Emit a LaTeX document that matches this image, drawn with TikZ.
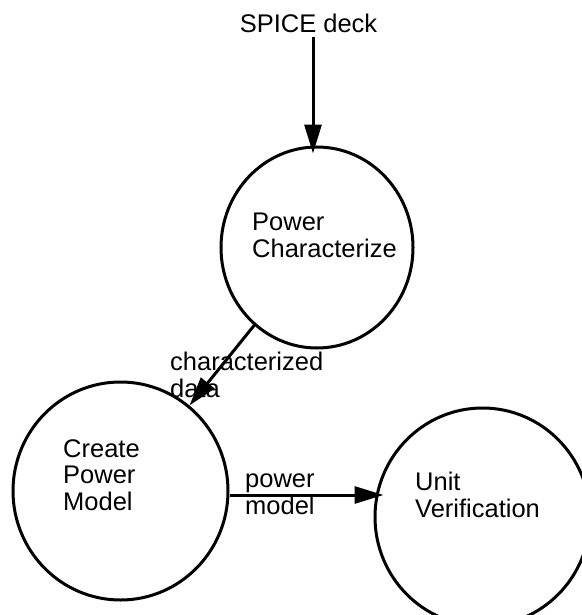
\documentclass[tikz,border=0pt]{standalone}
\usepackage{fontspec}
\setmainfont{Liberation Sans}
\usetikzlibrary{arrows.meta,shapes.geometric,positioning}
\begin{document}
\begin{tikzpicture}[x=1pt, y=-1pt,
    bubble/.style={ellipse, draw, line width=3pt, inner sep=0pt},
    flow/.style={line width=3pt, -{Triangle[length=29pt,width=17pt]}},
    txt/.style={font=\fontsize{25.5}{26.5}\selectfont, inner sep=0pt, align=left, anchor=north west}]
  \useasboundingbox (0,0) rectangle (581,615);
  % Processes
  \node[bubble, minimum width=192pt, minimum height=201pt] (pc) at (317,247.5) {};
  \node[bubble, minimum width=215pt, minimum height=218pt] (pm) at (120.5,491) {};
  \node[bubble, minimum width=215pt, minimum height=218pt] (uv) at (482.5,517) {};
  \node[txt] (pctext) at (252,213) {Power\\Characterize};
  \node[txt] (pmtext) at (63,439) {Create\\Power\\Model};
  \node[txt] (uvtext) at (415,472) {Unit\\Verification};
  % Input
  \node[txt, anchor=base] (spice) at (308.5,33) {SPICE deck};
  \coordinate (feed) at (313,0);
  \draw[flow, shorten <=4pt, shorten >=-8pt] (spice.south -| feed) -- (feed |- pc.north);
  % Data flows
  \draw[flow] (pc) -- (pm);
  \node[txt] (chardata) at (170,352) {characterized\\data};
  \draw[flow, shorten >=-10pt] ([yshift=-4pt]pm.east) -- ([yshift=-4pt]pm.east -| uv.west);
  \node[txt] (pmodel) at (245,474) {power\\model};
\end{tikzpicture}
\end{document}
